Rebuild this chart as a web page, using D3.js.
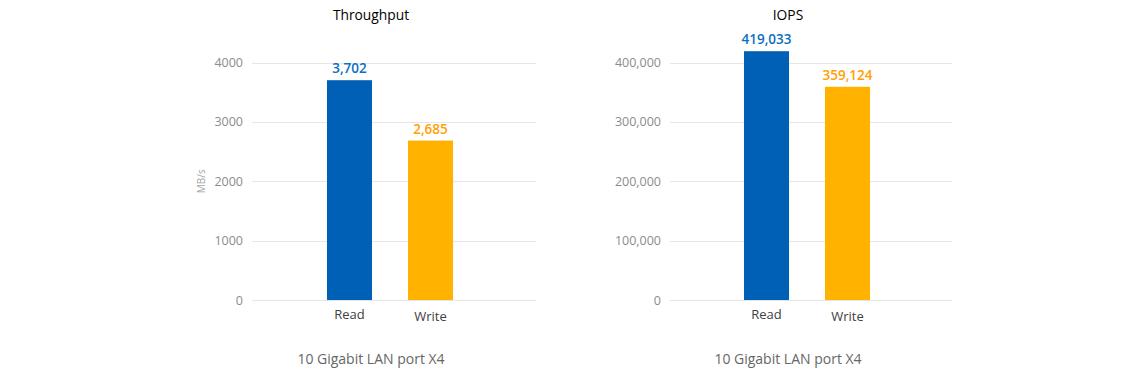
<!DOCTYPE html>
<html>
<head>
<meta charset="utf-8">
<script src="https://cdn.jsdelivr.net/npm/d3@7"></script>
<style>
  body { margin: 0; background: #fff; }
  svg { display: block; font-family: 'Open Sans', sans-serif; }
</style>
</head>
<body>
<svg id="chart" width="1140" height="372"></svg>
<script>
'use strict'

var categories = ['Read', 'Write']
var throughputValues = [3702, 2685]
var iopsValues = [419033, 359124]
var throughputTicks = [0, 1000, 2000, 3000, 4000]
var iopsTicks = [0, 100000, 200000, 300000, 400000]
var barColors = ['#0060B6', '#FFB200']
var labelColors = ['#0A70C0', '#FFA000']

var svg = d3.select('#chart')
var fmt = d3.format(',')

// one panel per chart, placed by its plot box
function drawPanel (opts) {
  var g = svg.append('g')

  var y = d3.scaleLinear()
    .domain([0, opts.ticks[opts.ticks.length - 1]])
    .range([300, 62.5])

  var x = d3.scaleBand()
    .domain(categories)
    .range([opts.bandLeft, opts.bandLeft + 162])
    .paddingInner(0.444)
    .paddingOuter(0.222)

  // gridlines
  g.append('g')
    .selectAll('line')
    .data(opts.ticks)
    .enter().append('line')
      .attr('x1', opts.left)
      .attr('x2', opts.right)
      .attr('y1', (d) => Math.round(y(d)) + 0.5)
      .attr('y2', (d) => Math.round(y(d)) + 0.5)
      .attr('stroke', '#e6e6e6')
      .attr('stroke-width', 1)

  // y tick labels
  g.append('g')
    .selectAll('text')
    .data(opts.ticks)
    .enter().append('text')
      .attr('x', opts.left - 9)
      .attr('y', (d) => y(d) + 4.5)
      .attr('text-anchor', 'end')
      .attr('font-size', 12.5)
      .attr('fill', '#8c8c8c')
      .text((d) => opts.tickFormat(d))

  // bars
  g.append('g')
    .selectAll('rect')
    .data(opts.values)
    .enter().append('rect')
      .attr('x', (d, i) => x(categories[i]))
      .attr('width', x.bandwidth())
      .attr('y', (d) => y(d))
      .attr('height', (d) => y(0) - y(d))
      .attr('fill', (d, i) => barColors[i])

  // value labels
  g.append('g')
    .selectAll('text')
    .data(opts.values)
    .enter().append('text')
      .attr('x', (d, i) => x(categories[i]) + x.bandwidth() / 2)
      .attr('y', (d) => y(d) - 7)
      .attr('text-anchor', 'middle')
      .attr('font-size', 13.5)
      .attr('font-weight', 600)
      .attr('fill', (d, i) => labelColors[i])
      .text((d) => fmt(d))

  // category labels
  g.append('g')
    .selectAll('text')
    .data(categories)
    .enter().append('text')
      .attr('x', (d) => x(d) + x.bandwidth() / 2)
      .attr('y', (d, i) => 319 + i * 2)
      .attr('text-anchor', 'middle')
      .attr('font-size', 13)
      .attr('fill', '#404040')
      .text((d) => d)

  // title
  g.append('text')
    .attr('x', opts.titleX)
    .attr('y', 20)
    .attr('text-anchor', 'middle')
    .attr('font-size', 13.8)
    .attr('font-weight', 500)
    .attr('fill', '#000')
    .text(opts.title)

  // caption
  g.append('text')
    .attr('x', opts.titleX)
    .attr('y', 364)
    .attr('text-anchor', 'middle')
    .attr('font-size', 14)
    .attr('fill', '#666')
    .text('10 Gigabit LAN port X4')

  if (opts.yLabel) {
    g.append('text')
      .attr('transform', 'translate(205,' + y(2000) + ') rotate(-90)')
      .attr('text-anchor', 'middle')
      .attr('font-size', 10)
      .attr('fill', '#a6a6a6')
      .text(opts.yLabel)
  }
}

drawPanel({
  title: 'Throughput',
  values: throughputValues,
  ticks: throughputTicks,
  tickFormat: (d) => String(d),
  left: 252,
  right: 536,
  bandLeft: 309,
  titleX: 371,
  yLabel: 'MB/s'
})

drawPanel({
  title: 'IOPS',
  values: iopsValues,
  ticks: iopsTicks,
  tickFormat: fmt,
  left: 670,
  right: 952,
  bandLeft: 726,
  titleX: 788
})
</script>
</body>
</html>
